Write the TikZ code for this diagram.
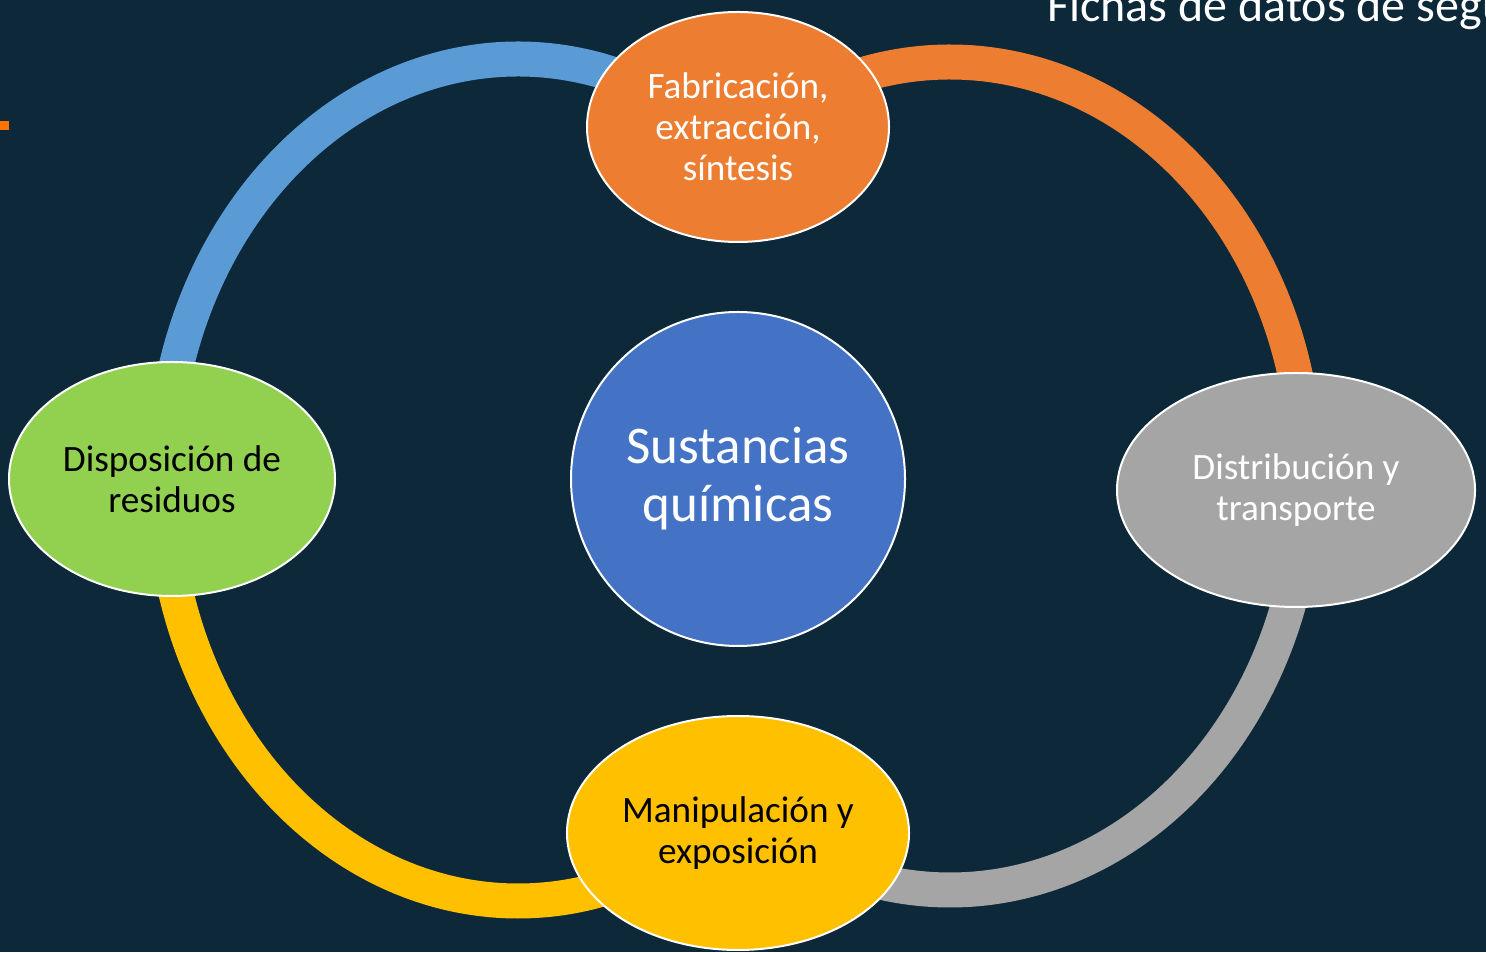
\documentclass[tikz,border=0pt]{standalone}
\usepackage{fontspec}
\setmainfont{Carlito}
\usepackage{tikz}
\usetikzlibrary{shapes.geometric}
\definecolor{bgColor}{HTML}{0C2839}
\definecolor{ringBlue}{HTML}{5B9BD5}
\definecolor{ringOrange}{HTML}{ED7D31}
\definecolor{ringGray}{HTML}{A5A5A5}
\definecolor{ringYellow}{HTML}{FFC000}
\definecolor{coreBlue}{HTML}{4472C4}
\definecolor{stageGreen}{HTML}{92D050}
\definecolor{markOrange}{HTML}{FF7300}

\tikzset{
  ring/.style={line width=17.5pt},
  stage/.style={ellipse, draw=white, line width=1pt, inner sep=0pt, align=center,
    font=\fontsize{18.6}{20.5}\selectfont},
}

\begin{document}
\begin{tikzpicture}[x=0.5pt, y=0.5pt]
    \fill[bgColor] (0,0) rectangle (1486,952);
    \clip (0,0) rectangle (1486,952);

    \fill[markOrange] (0,822) rectangle (9,831);
    \node[white, anchor=base west, inner sep=0pt, font=\fontsize{24}{29}\selectfont]
        (title) at (1047,930) {Fichas de datos de segu};

    % the cycle
    \coordinate (leftc) at (518,472);
    \coordinate (rightc) at (950,476);
    \draw[ring, ringBlue] (leftc) ++(72:177.5pt and 210.5pt)
        arc[start angle=72, end angle=180, x radius=177.5pt, y radius=210.5pt];
    \draw[ring, ringYellow] (leftc) ++(180:177.5pt and 210.5pt)
        arc[start angle=180, end angle=288, x radius=177.5pt, y radius=210.5pt];
    \draw[ring, ringOrange] (rightc) ++(112:178pt and 207pt)
        arc[start angle=112, end angle=0, x radius=178pt, y radius=207pt];
    \draw[ring, ringGray] (rightc) ++(0:178pt and 207pt)
        arc[start angle=0, end angle=-112, x radius=178pt, y radius=207pt];

    \node[stage, fill=ringOrange, text=white, minimum width=151pt, minimum height=115pt]
        (fab) at (738,825) {Fabricación,\\extracción,\\síntesis};
    \node[stage, fill=ringGray, text=white, minimum width=179pt, minimum height=117pt]
        (dist) at (1296,462) {Distribución y\\transporte};
    \node[stage, fill=ringYellow, text=black, minimum width=171pt, minimum height=117pt]
        (manip) at (738,119) {Manipulación y\\exposición};
    \node[stage, fill=stageGreen, text=black, minimum width=163pt, minimum height=117pt]
        (disp) at (172,473) {Disposición de\\residuos};

    \node[circle, draw=white, line width=1pt, fill=coreBlue, text=white, inner sep=0pt,
        minimum size=167pt, align=center, font=\fontsize{26.5}{29}\selectfont]
        (core) at (738,473) {Sustancias\\químicas};
\end{tikzpicture}
\end{document}
